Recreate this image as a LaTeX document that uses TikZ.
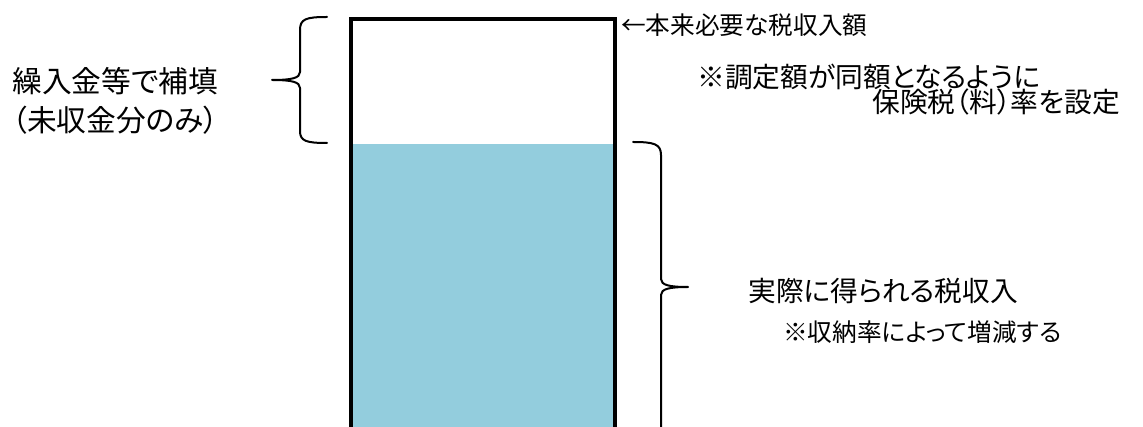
\documentclass[tikz,border=0pt]{standalone}
\usepackage{fontspec}
\setmainfont{Noto Sans CJK JP}[RawFeature=+palt]
\usetikzlibrary{positioning}

\definecolor{taxblue}{RGB}{147,205,221}

\begin{document}
\begin{tikzpicture}[x=0.75pt,y=-0.75pt,
	lbl/.style={inner sep=0pt, font=\fontsize{20.8}{25}\selectfont},
	smalllbl/.style={inner sep=0pt, font=\fontsize{18.5}{22}\selectfont},
	biglbl/.style={inner sep=0pt, font=\fontsize{22.3}{27}\selectfont},
	brace/.style={black, line width=1.5pt, line cap=round, line join=round},
	tank/.style={black, line width=2.4pt}]
	\useasboundingbox (0,0) rectangle (1143,427);

	% tank
	\fill [taxblue] (351,144) rectangle (615,427);
	\draw [tank] (351,427) -- (351,19) -- (615,19) -- (615,427);

	% left brace
	\coordinate (lb1) at (327,17);
	\coordinate (lbtip) at (272,80);
	\coordinate (lb2) at (327,143);
	\draw [brace] (lb1) .. controls (306,17) and (300,19) .. (300,30) -- (300,72) .. controls (300,78) and (292,80) .. (lbtip)
		(lbtip) .. controls (292,80) and (300,82) .. (300,88) -- (300,131) .. controls (300,141) and (306,143) .. (lb2);

	% right brace
	\coordinate (rb1) at (633,142);
	\coordinate (rbtip) at (688,287);
	\coordinate (rb2) at (661,427);
	\draw [brace] (rb1) .. controls (654,142) and (661,144) .. (661,155) -- (661,279) .. controls (661,285) and (669,287) .. (rbtip)
		(rbtip) .. controls (669,287) and (661,289) .. (661,295) -- (rb2);

	\node (hoten) at (12,81) [biglbl, anchor=west] {繰入金等で補填};
	\node (misyu) at (12,120) [biglbl, anchor=west] {（未収金分のみ）};
	\node (honrai) at (621,25) [smalllbl, anchor=west] {←本来必要な税収入額};
	\node (chotei) at (697,77) [lbl, anchor=west] {※調定額が同額となるように};
	\node (ritsu) at (1120,102) [lbl, anchor=east] {保険税（料）率を設定};
	\node (jissai) at (748,291) [lbl, anchor=west] {実際に得られる税収入};
	\node (zogen) at (783,332) [smalllbl, anchor=west] {※収納率によって増減する};
\end{tikzpicture}
\end{document}
